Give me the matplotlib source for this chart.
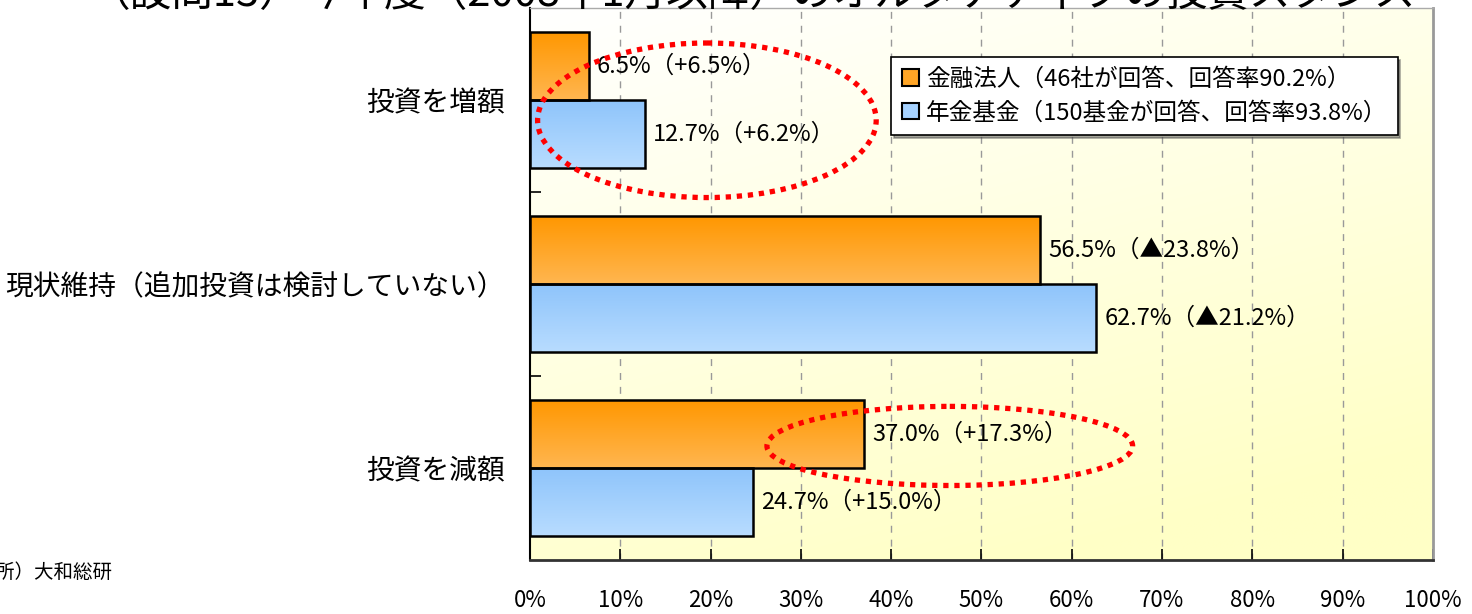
import numpy as np
import matplotlib
matplotlib.use("Agg")
import matplotlib.pyplot as plt
from matplotlib.patches import Rectangle, Ellipse, Patch
from matplotlib.colors import to_rgb

plt.rcParams['font.family'] = ['Noto Sans CJK JP', 'DejaVu Sans']

# 回答区分と系列データ
categories = ["投資を増額", "現状維持（追加投資は検討していない）", "投資を減額"]
series_names = ["金融法人（46社が回答、回答率90.2%）",
                "年金基金（150基金が回答、回答率93.8%）"]
financial = [6.5, 56.5, 37.0]
pension = [12.7, 62.7, 24.7]
financial_diff = ["+6.5%", "▲23.8%", "+17.3%"]
pension_diff = ["+6.2%", "▲21.2%", "+15.0%"]
xticks = [0, 10, 20, 30, 40, 50, 60, 70, 80, 90, 100]

title = "（設問13）今年度（2008年1月以降）のオルタナティブの投資スタンス"
source = "（出所）大和総研"

orange_top, orange_bot = "#FF9700", "#FFB650"
blue_top, blue_bot = "#8EC4FB", "#B8DCFF"

fig = plt.figure(figsize=(14.72, 6.14), dpi=100)
ax = fig.add_axes([0.360, 0.0879, 0.6134, 0.899])

ax.set_xlim(0, 100)
ax.set_ylim(2.5, -0.5)

# 背景のグラデーション（左上が白、右下が淡い黄色）
ny, nx = 200, 200
yy, xx = np.mgrid[0:1:ny * 1j, 0:1:nx * 1j]
t = np.clip(0.8 * yy + 0.35 * xx, 0, 1)
c0 = np.array(to_rgb("#FFFFFF"))
c1 = np.array(to_rgb("#FFFFC6"))
bg = c0 + (c1 - c0) * t[..., None]
ax.imshow(bg, extent=[0, 100, 2.5, -0.5], aspect="auto", zorder=0,
          interpolation="bilinear")

# 縦の破線グリッド
for xv in xticks[1:-1]:
    ax.axvline(xv, color="#999999", lw=1.0, ls=(0, (5, 5)), zorder=1)


def gradient_bar(y, width, height, top, bot):
    grad = np.linspace(0, 1, 64)[:, None]
    ct, cb = np.array(to_rgb(top)), np.array(to_rgb(bot))
    img = ct + (cb - ct) * grad[..., None]
    y0, y1 = y - height / 2, y + height / 2
    im = ax.imshow(img, extent=[0, width, y1, y0], aspect="auto", zorder=2,
                   interpolation="bilinear")
    rect = Rectangle((0, y0), width, height, facecolor="none",
                     edgecolor="black", lw=1.8, zorder=3)
    ax.add_patch(rect)
    im.set_clip_path(rect)


bh = 0.37
ypos = np.arange(len(categories))
for i in ypos:
    gradient_bar(i - bh / 2, financial[i], bh, orange_top, orange_bot)
    gradient_bar(i + bh / 2, pension[i], bh, blue_top, blue_bot)
    ax.text(financial[i] + 0.9, i - bh / 2, f"{financial[i]:.1f}%（{financial_diff[i]}）",
            va="center", ha="left", fontsize=17, zorder=4)
    ax.text(pension[i] + 0.9, i + bh / 2, f"{pension[i]:.1f}%（{pension_diff[i]}）",
            va="center", ha="left", fontsize=17, zorder=4)

# 強調用の赤い点線の楕円
for (cx, cy, w, h) in [(19.6, 0.11, 37.5, 0.84), (46.5, 1.88, 40.5, 0.43)]:
    ax.add_patch(Ellipse((cx, cy), w, h, fill=False, edgecolor="#FF0000",
                         lw=3.8, ls=(0, (1, 1.1)), zorder=5))

# 軸と目盛
ax.set_xticks(xticks)
ax.set_xticklabels([f"{v}%" for v in xticks], fontsize=16)
ax.tick_params(axis="x", direction="in", length=8, width=1.2, pad=21)
ax.set_yticks(ypos)
ax.set_yticklabels(categories, fontsize=20)
ax.tick_params(axis="y", length=0, pad=18)
ax.set_yticks([0.5, 1.5], minor=True)
ax.tick_params(axis="y", which="minor", direction="in", length=8, width=1.2)

ax.spines["left"].set_color("black")
ax.spines["left"].set_linewidth(1.5)
ax.spines["bottom"].set_color("#333333")
ax.spines["bottom"].set_linewidth(2)
ax.spines["right"].set_color("#999999")
ax.spines["right"].set_linewidth(2)
ax.spines["top"].set_color("#AAAAAA")
ax.spines["top"].set_linewidth(1)

handles = [Patch(facecolor="#FFA526", edgecolor="black", lw=1.5),
           Patch(facecolor="#A6D2FF", edgecolor="black", lw=1.5)]
leg = ax.legend(handles, series_names, loc="upper right",
                bbox_to_anchor=(0.961, 0.911), borderaxespad=0,
                fontsize=17, handlelength=0.7, handleheight=0.7,
                handletextpad=0.3, labelspacing=0.45, borderpad=0.45,
                fancybox=False, framealpha=1, edgecolor="black", shadow=True)
leg.get_frame().set_linewidth(1.2)
leg.set_zorder(6)

fig.text(88 / 1472, 1 - 6 / 614, title, fontsize=30, va="baseline", ha="left")
fig.text(112 / 1472, 1 - 572 / 614, source, fontsize=14, va="center", ha="right")

fig.savefig("out.png", dpi=100)
